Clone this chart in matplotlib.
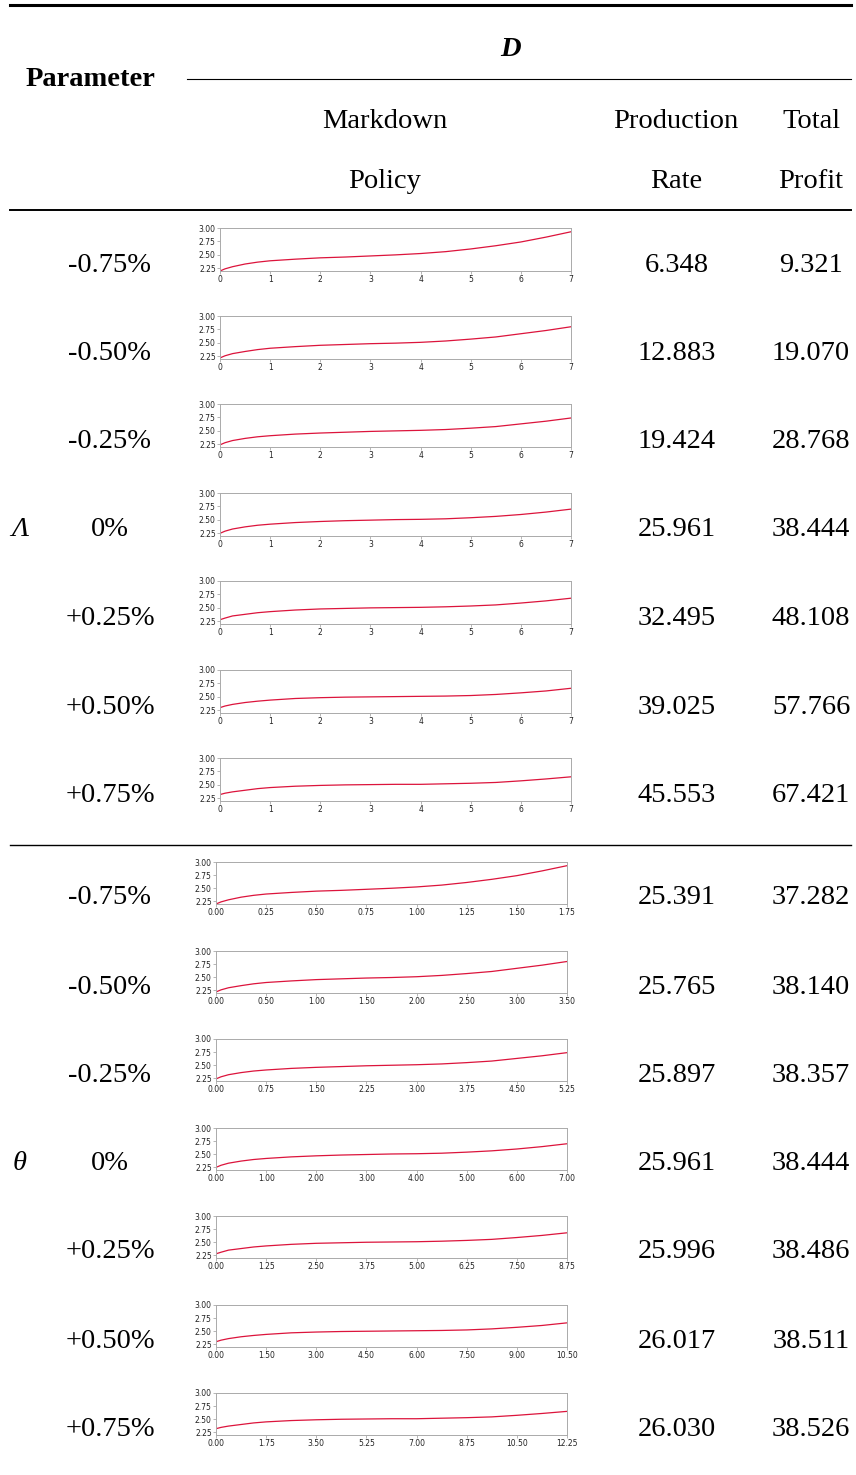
import numpy as np
import matplotlib
from matplotlib import pyplot as plt
from matplotlib.lines import Line2D

matplotlib.use("Agg")

W, H = 856, 1475

# table content
row_labels = ["-0.75%", "-0.50%", "-0.25%", "0%", "+0.25%", "+0.50%", "+0.75%"]
lambda_rate = ["6.348", "12.883", "19.424", "25.961", "32.495", "39.025", "45.553"]
lambda_profit = ["9.321", "19.070", "28.768", "38.444", "48.108", "57.766", "67.421"]
theta_rate = ["25.391", "25.765", "25.897", "25.961", "25.996", "26.017", "26.030"]
theta_profit = ["37.282", "38.140", "38.357", "38.444", "38.486", "38.511", "38.526"]

# markdown policy curves (read at these points of a 0..7 horizon)
x_base = [0, 0.1, 0.25, 0.5, 0.75, 1, 1.5, 2, 2.5, 3, 3.5, 4, 4.5, 5, 5.5, 6, 6.5, 7]
policy_m075 = [2.20, 2.24, 2.28, 2.33, 2.365, 2.39, 2.42, 2.445, 2.46, 2.48, 2.50, 2.525, 2.56, 2.61, 2.67, 2.74, 2.83, 2.93]
policy_m050 = [2.22, 2.26, 2.30, 2.34, 2.375, 2.40, 2.43, 2.455, 2.47, 2.485, 2.495, 2.51, 2.535, 2.57, 2.61, 2.67, 2.73, 2.80]
policy_m025 = [2.24, 2.28, 2.32, 2.36, 2.39, 2.41, 2.44, 2.46, 2.475, 2.49, 2.50, 2.51, 2.525, 2.55, 2.58, 2.63, 2.68, 2.74]
policy_0 = [2.25, 2.29, 2.33, 2.37, 2.40, 2.42, 2.45, 2.47, 2.485, 2.495, 2.505, 2.51, 2.52, 2.54, 2.565, 2.60, 2.645, 2.70]
policy_p025 = [2.28, 2.31, 2.35, 2.38, 2.41, 2.43, 2.46, 2.48, 2.49, 2.50, 2.505, 2.51, 2.52, 2.535, 2.555, 2.59, 2.63, 2.68]
policy_p050 = [2.30, 2.33, 2.36, 2.395, 2.42, 2.44, 2.47, 2.485, 2.495, 2.50, 2.505, 2.51, 2.515, 2.525, 2.545, 2.575, 2.61, 2.66]
policy_p075 = [2.32, 2.345, 2.37, 2.40, 2.43, 2.45, 2.475, 2.49, 2.50, 2.505, 2.51, 2.51, 2.52, 2.53, 2.545, 2.575, 2.61, 2.65]
policies = [policy_m075, policy_m050, policy_m025, policy_0,
            policy_p025, policy_p050, policy_p075]

# horizon of each theta sub-chart
theta_horizon = [1.75, 3.5, 5.25, 7.0, 8.75, 10.5, 12.25]

lambda_rows = [262, 350, 438, 527, 615, 704, 792]
theta_rows = [895, 984, 1072, 1161, 1249, 1338, 1426]

SERIF = ["Liberation Serif", "DejaVu Serif"]
FS = 20.5
DY = 3  # baseline nudge for serif text


def fx(px):
    return px / W


def fy(py):
    return 1 - py / H


def hline(fig, y, x0, x1, lw):
    fig.add_artist(Line2D([fx(x0), fx(x1)], [fy(y), fy(y)],
                          transform=fig.transFigure, color="black", lw=lw))


def text(fig, x, y, s, **kw):
    kw.setdefault("fontsize", FS)
    fig.text(fx(x), fy(y + DY), s, ha="center", va="center", family=SERIF, **kw)


def mini_chart(fig, left, right, top, bottom, xs, ys, xticks, fmt):
    ax = fig.add_axes([fx(left), fy(bottom), fx(right) - fx(left),
                       fy(top) - fy(bottom)])
    ax.plot(xs, ys, color="#dc143c", lw=0.9)
    ax.set_xlim(xticks[0], xticks[-1])
    ax.set_ylim(2.2, 3.0)
    ax.set_yticks([2.25, 2.5, 2.75, 3.0])
    ax.set_yticklabels([f"{v:.2f}" for v in [2.25, 2.5, 2.75, 3.0]])
    ax.set_xticks(xticks)
    ax.set_xticklabels([fmt.format(v) for v in xticks])
    ax.tick_params(labelsize=5.5, length=2, width=0.5, pad=1,
                   color="#999999", labelcolor="#222222")
    for sp in ax.spines.values():
        sp.set_color("#aaaaaa")
        sp.set_linewidth(0.7)
    return ax


fig = plt.figure(figsize=(W / 100, H / 100), dpi=100)

# rules
hline(fig, 5, 10, 851, 2.2)
hline(fig, 79, 187, 851, 0.8)
hline(fig, 210, 10, 851, 1.4)
hline(fig, 845, 10, 851, 1.0)

# header
text(fig, 91, 76, "Parameter", fontweight="bold")
text(fig, 511, 46, "D", fontweight="bold", style="italic")
text(fig, 385, 119, "Markdown")
text(fig, 385, 178, "Policy")
text(fig, 676, 119, "Production")
text(fig, 676, 178, "Rate")
text(fig, 811, 119, "Total")
text(fig, 811, 178, "Profit")

text(fig, 20, lambda_rows[3], "Λ", style="italic")
text(fig, 20, theta_rows[3], "θ", style="italic")

for i, (label, ys) in enumerate(zip(row_labels, policies)):
    # Lambda block
    cy = lambda_rows[i]
    text(fig, 110, cy, label)
    text(fig, 677, cy, lambda_rate[i])
    text(fig, 811, cy, lambda_profit[i])
    mini_chart(fig, 220, 571, cy - 34, cy + 9, x_base, ys,
               list(range(8)), "{:.0f}")

    # theta block
    cy = theta_rows[i]
    text(fig, 110, cy, label)
    text(fig, 677, cy, theta_rate[i])
    text(fig, 811, cy, theta_profit[i])
    T = theta_horizon[i]
    xs = [x * T / 7 for x in x_base]
    mini_chart(fig, 216, 567, cy - 33, cy + 9, xs, ys,
               list(np.linspace(0, T, 8)), "{:.2f}")

plt.savefig("out.png", dpi=100)
plt.close("all")
